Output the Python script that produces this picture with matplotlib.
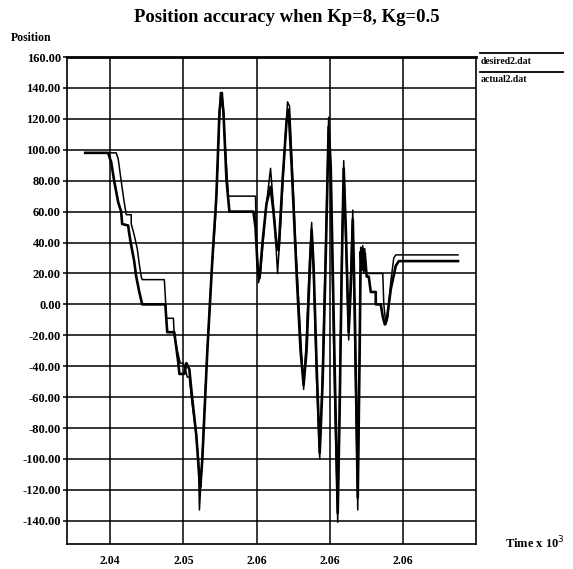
import matplotlib
matplotlib.use("Agg")
import matplotlib.pyplot as plt
from matplotlib.lines import Line2D
import numpy as np

plt.rcParams['font.family'] = ['Liberation Serif', 'DejaVu Serif']

# time in ms (axis shows Time x 10^3)
t_des = [2038.29, 2040.41, 2040.55, 2040.75, 2040.96, 2041.10, 2041.44, 2041.44, 2041.64, 2041.85,
         2041.99, 2042.12, 2042.19, 2043.70, 2043.77, 2043.84, 2044.32, 2044.38, 2044.59, 2044.79,
         2045.00, 2045.14, 2045.27, 2045.41, 2045.55, 2045.82, 2046.03, 2046.10, 2046.23, 2046.58,
         2046.92, 2047.19, 2047.47, 2047.53, 2047.67, 2047.81, 2048.08, 2049.93, 2050.00, 2050.14,
         2050.27, 2050.62, 2050.96, 2051.23, 2051.44, 2051.64, 2051.92, 2052.12, 2052.26, 2052.67,
         2053.01, 2053.22, 2053.42, 2053.63, 2053.77, 2053.90, 2054.11, 2054.32, 2054.52, 2054.73,
         2054.93, 2055.07, 2055.34, 2055.55, 2055.68, 2055.82, 2055.96, 2056.10, 2056.30, 2056.44,
         2056.58, 2056.71, 2056.92, 2057.05, 2057.12, 2057.19, 2057.26, 2057.33, 2057.40, 2057.47,
         2057.53, 2058.63, 2058.70, 2058.84, 2058.97, 2059.18, 2059.38, 2059.52, 2063.77]
y_des = [98, 98, 94, 80, 66, 58, 58, 52, 45, 36,
         26, 18, 16, 16, 5, -9, -9, -20, -30, -38,
         -38, -42, -47, -47, -60, -80, -100, -133, -110, -40,
         20, 55, 120, 137, 137, 110, 70, 70, 40, 14,
         20, 60, 88, 55, 20, 50, 100, 131, 128, 40,
         -20, -55, -20, 30, 53, 20, -50, -100, -40, 40,
         121, 80, -60, -141, -60, 30, 93, 40, -23, 20,
         61, -20, -133, -20, 37, 22, 38, 20, 36, 21,
         20, 20, 0, -13, -8, 15, 30, 32, 32]

t_act = [2038.29, 2039.86, 2040.07, 2040.27, 2040.55, 2040.75, 2040.82, 2041.23, 2041.30, 2041.44,
         2041.64, 2041.78, 2041.99, 2042.19, 2043.77, 2043.84, 2043.90, 2044.38, 2044.52, 2044.66,
         2044.73, 2045.07, 2045.21, 2045.41, 2045.62, 2045.89, 2046.10, 2046.16, 2046.30, 2046.64,
         2046.99, 2047.26, 2047.47, 2047.60, 2047.74, 2047.95, 2048.15, 2049.79, 2049.93, 2050.07,
         2050.21, 2050.41, 2050.68, 2050.96, 2051.16, 2051.37, 2051.51, 2051.78, 2052.05, 2052.19,
         2052.40, 2052.74, 2053.01, 2053.22, 2053.42, 2053.63, 2053.77, 2053.90, 2054.11, 2054.32,
         2054.52, 2054.73, 2054.93, 2055.07, 2055.34, 2055.55, 2055.68, 2055.82, 2055.96, 2056.10,
         2056.30, 2056.44, 2056.58, 2056.71, 2056.92, 2057.05, 2057.12, 2057.19, 2057.26, 2057.33,
         2057.40, 2057.53, 2057.67, 2057.81, 2058.15, 2058.15, 2058.49, 2058.63, 2058.77, 2058.90,
         2059.18, 2059.52, 2059.73, 2063.77]
y_act = [98, 98, 92, 80, 66, 60, 52, 51, 46, 38,
         28, 18, 8, 0, 0, -10, -18, -18, -28, -38,
         -45, -45, -38, -42, -62, -85, -113, -118, -100, -30,
         30, 70, 125, 136, 125, 80, 60, 60, 50, 25,
         17, 40, 65, 76, 60, 38, 35, 80, 118, 126,
         90, 20, -30, -52, -30, 20, 48, 25, -40, -96,
         -50, 30, 115, 90, -40, -135, -70, 20, 88, 50,
         -18, 10, 55, 0, -125, -30, 34, 24, 36, 22,
         33, 18, 18, 8, 8, 0, 0, -8, -13, -10,
         10, 25, 28, 28]

x_ticks = [2.040, 2.045, 2.050, 2.055, 2.060]
x_labels = ["2.04", "2.05", "2.06", "2.06", "2.06"]
y_ticks = list(range(-140, 161, 20))

fig = plt.figure(figsize=(5.73, 5.69), dpi=100)
ax = fig.add_axes([67/573, 1-544/569, (476-67)/573, (544-57)/569])

ax.plot(np.array(t_des)/1000, y_des, color='black', lw=1.1)
ax.plot(np.array(t_act)/1000, y_act, color='black', lw=1.9)

ax.set_xlim(2.03705, 2.065)
ax.set_ylim(-155, 160)
ax.set_xticks(x_ticks)
ax.set_xticklabels(x_labels)
ax.set_yticks(y_ticks)
ax.set_yticklabels([f"{v:.2f}" for v in y_ticks])
ax.grid(True, color='black', lw=1.1)
ax.tick_params(axis='x', length=0, pad=8, labelsize=8.5)
ax.tick_params(axis='y', length=3, width=1.1, pad=1.5, labelsize=9)
for lab in ax.get_xticklabels() + ax.get_yticklabels():
    lab.set_fontweight('bold')
for s in ax.spines.values():
    s.set_linewidth(1.2)
ax.spines['top'].set_linewidth(2)

fig.text(0.5, 1-17/569, "Position accuracy when Kp=8, Kg=0.5", ha='center', va='center',
         fontsize=13.5, fontweight='bold')
fig.text(11/573, 1-38/569, "Position", ha='left', va='center', fontsize=8.5, fontweight='bold')
fig.text(505/573, 1-543/569, "Time x 10$^3$", ha='left', va='center', fontsize=9, fontweight='bold')

# legend outside on the right
for ly, lt in [(53, "desired2.dat"), (72, "actual2.dat")]:
    fig.add_artist(Line2D([480/573, 563/573], [1-ly/569, 1-ly/569], color='black', lw=1.3))
    fig.text(481/573, 1-(ly+8)/569, lt, ha='left', va='center', fontsize=7, fontweight='bold')

fig.savefig("out.png", dpi=100)
